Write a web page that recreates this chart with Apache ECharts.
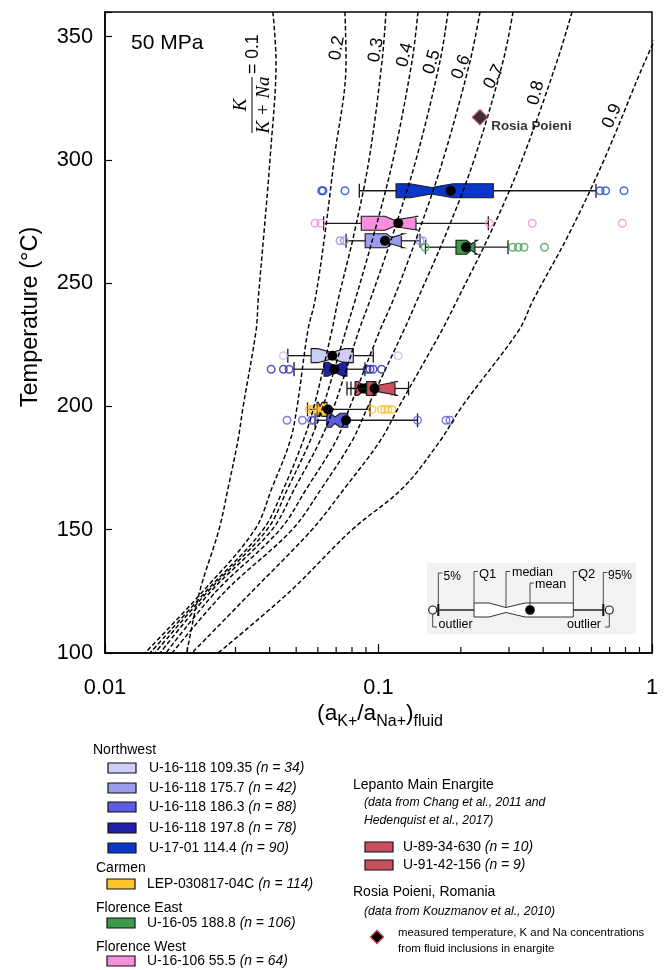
<!DOCTYPE html>
<html>
<head>
<meta charset="utf-8">
<script src="https://cdn.jsdelivr.net/npm/echarts@6/dist/echarts.min.js"></script>
<style>html,body{margin:0;padding:0;background:#fff;}#chart{width:665px;height:970px;}</style>
</head>
<body>
<div id="chart"></div>
<script>
// ================= DATA =================
// K/(K+Na) iso-ratio curves (50 MPa): activity ratio at each temperature
const curveTemps = [360, 340, 300, 270, 243, 231, 200, 186, 167, 150, 125, 100];
const ratioLabels = ['0.1', '0.2', '0.3', '0.4', '0.5', '0.6', '0.7', '0.8', '0.9'];
const curve01 = [0.0411, 0.0422, 0.0401, 0.0381, 0.0363, 0.0357, 0.0320, 0.0306, 0.0282, 0.0261, 0.0222, 0.0199];
const curve02 = [0.0754, 0.0761, 0.0688, 0.0637, 0.0586, 0.0552, 0.0504, 0.0475, 0.0408, 0.0353, 0.0228, 0.0140];
const curve03 = [0.1065, 0.1030, 0.0923, 0.0814, 0.0711, 0.0676, 0.0581, 0.0530, 0.0451, 0.0378, 0.0234, 0.0146];
const curve04 = [0.1394, 0.1326, 0.1130, 0.0963, 0.0821, 0.0761, 0.0627, 0.0562, 0.0467, 0.0391, 0.0238, 0.0152];
const curve05 = [0.1795, 0.1678, 0.1371, 0.1130, 0.0931, 0.0849, 0.0688, 0.0611, 0.0495, 0.0408, 0.0244, 0.0159];
const curve06 = [0.2350, 0.2161, 0.1721, 0.1394, 0.1130, 0.1013, 0.0787, 0.0699, 0.0548, 0.0436, 0.0255, 0.0167];
const curve07 = [0.3103, 0.2853, 0.2235, 0.1765, 0.1383, 0.1239, 0.0915, 0.0800, 0.0621, 0.0483, 0.0275, 0.0176];
const curve08 = [0.5100, 0.4495, 0.3347, 0.2557, 0.1936, 0.1707, 0.1189, 0.1013, 0.0754, 0.0571, 0.0345, 0.0208];
const curve09 = [1.1440, 0.9427, 0.6676, 0.4972, 0.3672, 0.3263, 0.2020, 0.1678, 0.1229, 0.0800, 0.0475, 0.0259];

// Box plots
const boxNames  = ['U-16-118 109.35', 'U-16-118 175.7', 'U-16-118 186.3', 'U-16-118 197.8', 'U-17-01 114.4',
                   'LEP-030817-04C', 'U-16-05 188.8', 'U-16-106 55.5', 'U-89-34-630', 'U-91-42-156'];
const boxCounts = [34, 42, 88, 78, 90, 114, 106, 64, 10, 9];
const boxTemps  = [220.6, 267.2, 194.4, 215.1, 287.5, 198.8, 264.6, 274.3, 207.3, 207.3];
const boxLow    = [0.0466, 0.0761, 0.0586, 0.0491, 0.0851, 0.0550, 0.1485, 0.0630, 0.0767, 0.0793];
const boxQ1     = [0.0567, 0.0894, 0.0647, 0.0632, 0.1159, 0.0596, 0.1920, 0.0865, 0.0821, 0.0905];
const boxNotchLo= [0.0601, 0.1071, 0.0671, 0.0654, 0.1304, 0.0603, 0.2101, 0.1056, 0.0841, 0.0947];
const boxMedian = [0.0674, 0.1117, 0.0693, 0.0693, 0.1565, 0.0611, 0.2180, 0.1139, 0.0878, 0.0996];
const boxNotchHi= [0.0754, 0.1240, 0.0723, 0.0742, 0.1873, 0.0622, 0.2300, 0.1400, 0.0923, 0.1180];
const boxQ3     = [0.0809, 0.1212, 0.0772, 0.0767, 0.2629, 0.0648, 0.2253, 0.1371, 0.0979, 0.1149];
const boxHigh   = [0.0957, 0.1418, 0.1389, 0.0892, 0.6241, 0.0931, 0.2975, 0.2521, 0.1120, 0.1288];
const boxMean   = [0.0678, 0.1056, 0.0761, 0.0690, 0.1837, 0.0654, 0.2089, 0.1181, 0.0878, 0.0967];
const outliers  = [
  [0.0449, 0.1181],
  [0.0723, 0.0750, 0.1418, 0.1451],
  [0.0463, 0.0527, 0.0569, 0.0581, 0.1389, 0.1765, 0.1825],
  [0.0405, 0.0449, 0.0471, 0.0908, 0.0931, 0.0955, 0.1026],
  [0.0620, 0.0627, 0.0754, 0.6456, 0.6770, 0.7900],
  [0.0558, 0.0570, 0.0578, 0.0947, 0.1026, 0.1056, 0.1083, 0.1120],
  [0.1481, 0.3095, 0.3244, 0.3404, 0.4045],
  [0.0586, 0.0616, 0.2546, 0.3650, 0.7790],
  [],
  []
];
const boxColors     = ['#cdcdf5', '#9c9cec', '#5c5ce0', '#1f1fa8', '#0a37c9', '#ffc62b', '#3c9a49', '#f790dc', '#c9505f', '#c9505f'];
const outlierColors = ['#bdbdee', '#9090e4', '#5a5ad8', '#2a2ab0', '#1d43cf', '#ffbe2a', '#46a051', '#f08ed6', '#c9505f', '#c9505f'];

// Rosia Poieni point
const rosiaRatio = 0.235;
const rosiaTemp = 317.3;
const rosiaLabel = 'Rosia Poieni';

// Axis ticks
const yTicks = [100, 150, 200, 250, 300, 350];
const xMinorTicks = [0.02, 0.03, 0.04, 0.05, 0.06, 0.07, 0.08, 0.09, 0.2, 0.3, 0.4, 0.5, 0.6, 0.7, 0.8, 0.9];

// ================= FONTS =================
function hasFont(name) {
  const c = document.createElement('canvas').getContext('2d');
  const s = 'abcdefghijklmnopqrstuvwxyzWM0123456789';
  c.font = '40px monospace';
  const w1 = c.measureText(s).width;
  c.font = '40px "' + name + '", monospace';
  return c.measureText(s).width !== w1;
}
const HAS_NARROW = hasFont('Liberation Sans Narrow');
const NF = HAS_NARROW ? "'Liberation Sans Narrow', 'Liberation Sans', sans-serif" : "'Liberation Sans', Arial, sans-serif";
const RF = "'Liberation Sans', Arial, sans-serif";
const NS = HAS_NARROW ? 1 : 0.84;
const nsz = s => Math.round(s * NS * 10) / 10;
const fnt = (size, fam, style, weight) => (style || 'normal') + ' ' + (weight || 'normal') + ' ' + size + 'px ' + fam;

// ================= SERIES =================
const curves = [curve01, curve02, curve03, curve04, curve05, curve06, curve07, curve08, curve09];
const curveSeries = curves.map((c, k) => ({
  type: 'line', name: 'K/(K+Na)=' + ratioLabels[k],
  data: c.map((v, i) => [v, curveTemps[i]]),
  showSymbol: false, smooth: 0.35, clip: true, z: 5, silent: true,
  lineStyle: { color: '#000', width: 1.45, type: [4.5, 2.5] }
}));

const boxData = boxNames.map((n, i) => [boxTemps[i], boxLow[i], boxQ1[i], boxNotchLo[i], boxMedian[i], boxNotchHi[i], boxQ3[i], boxHigh[i], boxMean[i], i]);
const boxSeries = {
  type: 'custom', z: 3, silent: true, encode: { x: 2, y: 0 }, data: boxData,
  renderItem: function (params, api) {
    const T = api.value(0);
    const X = k => api.coord([api.value(k), T])[0];
    const y = api.coord([api.value(2), T])[1];
    const xl = X(1), xq1 = X(2), xnl = X(3), xmd = X(4), xnh = X(5), xq3 = X(6), xh = X(7), xmn = X(8);
    const c = boxColors[api.value(9)];
    const h = 7, hn = 3.2, ch = 7;
    const ln = { stroke: '#1a1a1a', lineWidth: 1.3 };
    return { type: 'group', children: [
      { type: 'line', shape: { x1: xl, y1: y, x2: xq1, y2: y }, style: ln },
      { type: 'line', shape: { x1: xq3, y1: y, x2: xh, y2: y }, style: ln },
      { type: 'line', shape: { x1: xl, y1: y - ch, x2: xl, y2: y + ch }, style: ln },
      { type: 'line', shape: { x1: xh, y1: y - ch, x2: xh, y2: y + ch }, style: ln },
      { type: 'polygon', shape: { points: [[xq1, y - h], [xnl, y - h], [xmd, y - hn], [xnh, y - h], [xq3, y - h], [xq3, y + h], [xnh, y + h], [xmd, y + hn], [xnl, y + h], [xq1, y + h]] },
        style: { fill: c, stroke: '#1a1a1a', lineWidth: 1.1 } },
      { type: 'circle', shape: { cx: xmn, cy: y, r: 5 }, style: { fill: '#000' } }
    ] };
  }
};

const outlierSeries = outliers.map((arr, i) => ({
  type: 'scatter', z: 4, silent: true, symbol: 'circle', symbolSize: 7.5,
  data: arr.map(v => [v, boxTemps[i]]),
  itemStyle: { color: 'rgba(255,255,255,0)', borderColor: outlierColors[i], borderWidth: 1.5 }
}));

const minorTickSeries = {
  type: 'custom', z: 2, silent: true, encode: { x: 0, y: 1 },
  data: xMinorTicks.map(v => [v, yTicks[0]]),
  renderItem: function (params, api) {
    const p = api.coord([api.value(0), api.value(1)]);
    return { type: 'line', shape: { x1: p[0], y1: p[1], x2: p[0], y2: p[1] - 6 }, style: { stroke: '#000', lineWidth: 1.2 } };
  }
};

const rosiaSeries = {
  type: 'scatter', z: 6, silent: true, symbol: 'diamond', symbolSize: [15, 15],
  data: [[rosiaRatio, rosiaTemp]],
  itemStyle: { color: '#000', borderColor: '#c23b4c', borderWidth: 1.5 },
  label: { show: true, position: 'right', distance: 3, offset: [0, 9], formatter: rosiaLabel,
    fontFamily: NF, fontWeight: 'bold', fontSize: nsz(16), color: '#000' }
};

// ================= GRAPHICS (titles, annotations, legend) =================
const G = [];
function T(x, y, text, style, extra) {
  const st = Object.assign({ text: text, fill: '#000', textAlign: 'left', align: 'left', textVerticalAlign: 'middle', verticalAlign: 'middle' }, style || {});
  if (st.textAlign) st.align = st.textAlign;
  G.push(Object.assign({ type: 'text', x: x, y: y, silent: true, style: st }, extra || {}));
}
function L(x1, y1, x2, y2, w, col) {
  G.push({ type: 'line', silent: true, shape: { x1, y1, x2, y2 }, style: { stroke: col || '#000', lineWidth: w || 1 } });
}

// 50 MPa
T(131, 43, '50 MPa', { font: fnt(nsz(25), NF) });
// y axis title
T(31, 317, 'Temperature (°C)', { font: fnt(nsz(28), NF), textAlign: 'center' }, { rotation: Math.PI / 2 });
// x axis title with subscripts
G.push({ type: 'text', x: 380, y: 717, silent: true, style: {
  text: '{n|(a}{s|K+}{n|/a}{s|Na+}{n|)}{s|fluid}',
  align: 'center', textAlign: 'center', verticalAlign: 'middle', textVerticalAlign: 'middle',
  rich: {
    n: { fontFamily: NF, fontSize: nsz(27), lineHeight: 30, verticalAlign: 'top', fill: '#000', color: '#000' },
    s: { fontFamily: NF, fontSize: nsz(19), lineHeight: 20, verticalAlign: 'top', padding: [12, 0, 0, 0], fill: '#000', color: '#000' }
  }
} });

// curve labels (0.2 .. 0.9)
const curveLabelPos = [[337, 48, 80], [376, 50, 80], [405, 55, 76], [432, 62, 74], [461, 67, 68], [494, 77, 62], [536, 93, 76], [612, 116, 66]];
curveLabelPos.forEach((p, k) => {
  T(p[0], p[1], ratioLabels[k + 1], { font: fnt(nsz(21), NF), textAlign: 'center' }, { rotation: p[2] * Math.PI / 180 });
});
// K/(K+Na) = 0.1 label
G.push({ type: 'group', x: 252, y: 105, rotation: Math.PI / 2, silent: true, children: [
  { type: 'line', shape: { x1: -28, y1: 0, x2: 28, y2: 0 }, style: { stroke: '#000', lineWidth: 1 } },
  { type: 'text', x: 0, y: -2, style: { text: 'K', font: fnt(19, "'Liberation Serif', serif", 'italic'), fill: '#000', align: 'center', textAlign: 'center', verticalAlign: 'bottom', textVerticalAlign: 'bottom' } },
  { type: 'text', x: 0, y: 2, style: { text: 'K + Na', font: fnt(19, "'Liberation Serif', serif", 'italic'), fill: '#000', align: 'center', textAlign: 'center', verticalAlign: 'top', textVerticalAlign: 'top' } },
  { type: 'text', x: 31, y: 1, style: { text: '= 0.1', font: fnt(nsz(21), NF), fill: '#000', align: 'left', textAlign: 'left', verticalAlign: 'middle', textVerticalAlign: 'middle' } }
] });

// ---- inset schematic key ----
G.push({ type: 'rect', silent: true, shape: { x: 427, y: 563, width: 209, height: 71 }, style: { fill: '#f2f2f2' } });
const iy = 610;
const sF = fnt(12.5, RF);
G.push({ type: 'circle', silent: true, shape: { cx: 432.7, cy: iy, r: 4 }, style: { fill: '#fff', stroke: '#222', lineWidth: 1.2 } });
G.push({ type: 'circle', silent: true, shape: { cx: 609.3, cy: iy, r: 4 }, style: { fill: '#fff', stroke: '#222', lineWidth: 1.2 } });
L(438.3, iy - 6, 438.3, iy + 6, 2, '#111');
L(603.3, iy - 6, 603.3, iy + 6, 2, '#111');
L(438.3, iy, 474, iy, 1.5, '#222');
L(573.3, iy, 603.3, iy, 1.5, '#222');
G.push({ type: 'polygon', silent: true, shape: { points: [[474, iy - 7], [489, iy - 7], [506, iy - 2.5], [525, iy - 7], [573.3, iy - 7], [573.3, iy + 7], [525, iy + 7], [506, iy + 2.5], [489, iy + 7], [474, iy + 7]] },
  style: { fill: '#fff', stroke: '#333', lineWidth: 1 } });
G.push({ type: 'circle', silent: true, shape: { cx: 530, cy: iy, r: 4.8 }, style: { fill: '#000' } });
// leaders
const lw = 0.9, lc = '#333';
L(438.3, iy - 6, 438.3, 573, lw, lc); L(438.3, 573, 442.5, 573, lw, lc); T(443.5, 577, '5%', { font: fnt(12, RF) });
L(474, iy - 7, 474, 571.5, lw, lc); L(474, 571.5, 478, 571.5, lw, lc); T(479, 574, 'Q1', { font: fnt(13, RF) });
L(506, iy - 3, 506, 571.5, lw, lc); L(506, 571.5, 510, 571.5, lw, lc); T(512, 572.5, 'median', { font: sF });
L(530, iy - 5, 530, 583, lw, lc); L(530, 583, 534, 583, lw, lc); T(535, 584.5, 'mean', { font: sF });
L(573.3, iy - 7, 573.3, 571.5, lw, lc); L(573.3, 571.5, 577.3, 571.5, lw, lc); T(578, 574, 'Q2', { font: fnt(13, RF) });
L(603.3, iy - 6, 603.3, 572.5, lw, lc); L(603.3, 572.5, 607.3, 572.5, lw, lc); T(608, 575.5, '95%', { font: fnt(12, RF) });
L(432.7, iy + 4, 432.7, 627, lw, lc); L(432.7, 627, 437, 627, lw, lc); T(438.5, 624.5, 'outlier', { font: sF });
L(609.3, iy + 4, 609.3, 627, lw, lc); L(609.3, 627, 605, 627, lw, lc); T(601, 624.5, 'outlier', { font: sF, textAlign: 'right' });

// ---- bottom legend ----
const headF = fnt(14, RF);
const itemSize = nsz(16.5);
function legendItem(sx, tx, y, i) {
  G.push({ type: 'rect', silent: true, shape: { x: sx, y: y - 5, width: 28, height: 10 }, style: { fill: boxColors[i], stroke: '#111', lineWidth: 1.2 } });
  G.push({ type: 'text', x: tx, y: y, silent: true, style: {
    text: '{a|' + boxNames[i] + ' }{b|(n = ' + boxCounts[i] + ')}',
    align: 'left', textAlign: 'left', verticalAlign: 'middle', textVerticalAlign: 'middle',
    rich: { a: { fontFamily: NF, fontSize: itemSize, fill: '#000', color: '#000' },
            b: { fontFamily: NF, fontSize: itemSize, fontStyle: 'italic', fill: '#000', color: '#000' } }
  } });
}
T(93, 750, 'Northwest', { font: headF });
legendItem(108, 149, 768, 0);
legendItem(108, 149, 788, 1);
legendItem(108, 149, 807, 2);
legendItem(108, 149, 828, 3);
legendItem(108, 149, 848, 4);
T(96, 868, 'Carmen', { font: headF });
legendItem(107, 147, 884, 5);
T(96, 908, 'Florence East', { font: headF });
legendItem(107, 147, 923, 6);
T(96, 947, 'Florence West', { font: headF });
legendItem(107, 147, 961, 7);

T(353, 785, 'Lepanto Main Enargite', { font: headF });
T(364, 803, '(data from Chang et al., 2011 and', { font: fnt(nsz(14.5), NF, 'italic') });
T(364, 821, 'Hedenquist et al., 2017)', { font: fnt(nsz(14.5), NF, 'italic') });
legendItem(365, 403, 847, 8);
legendItem(365, 403, 865, 9);
T(353, 892, 'Rosia Poieni, Romania', { font: headF });
T(364, 912, '(data from Kouzmanov et al., 2010)', { font: fnt(nsz(14.5), NF, 'italic') });
G.push({ type: 'polygon', silent: true, shape: { points: [[377, 930.5], [383.5, 937], [377, 943.5], [370.5, 937]] }, style: { fill: '#000', stroke: '#c23b4c', lineWidth: 1.3 } });
T(398, 932.5, 'measured temperature, K and Na concentrations', { font: fnt(nsz(13.6), NF) });
T(398, 949, 'from fluid inclusions in enargite', { font: fnt(nsz(13.6), NF) });

// ================= CHART =================
const chart = echarts.init(document.getElementById('chart'), null, { renderer: 'canvas', width: 665, height: 970 });
chart.setOption({
  animation: false,
  backgroundColor: '#fff',
  grid: { left: 105, right: 13, top: 12, bottom: 317, show: true, borderColor: '#000', borderWidth: 1.5, backgroundColor: 'rgba(0,0,0,0)' },
  xAxis: {
    type: 'log', logBase: 10, min: 0.01, max: 1,
    axisLine: { show: true, lineStyle: { color: '#000', width: 1.5 } },
    axisTick: { show: true, inside: true, length: 9, lineStyle: { color: '#000', width: 1.2 } },
    axisLabel: { color: '#000', fontFamily: NF, fontSize: nsz(26), margin: 24, formatter: v => String(v) },
    splitLine: { show: false }, minorTick: { show: false }
  },
  yAxis: {
    type: 'value', min: yTicks[0], max: 360, interval: 50,
    axisLine: { show: true, lineStyle: { color: '#000', width: 1.5 } },
    axisTick: { show: true, inside: true, length: 7, lineStyle: { color: '#000', width: 1.2 } },
    axisLabel: { color: '#000', fontFamily: NF, fontSize: nsz(26), margin: 12, formatter: v => (yTicks.indexOf(v) >= 0 ? String(v) : '') },
    splitLine: { show: false }
  },
  series: [minorTickSeries, boxSeries].concat(outlierSeries, curveSeries, [rosiaSeries]),
  graphic: G
});
</script>
</body>
</html>
